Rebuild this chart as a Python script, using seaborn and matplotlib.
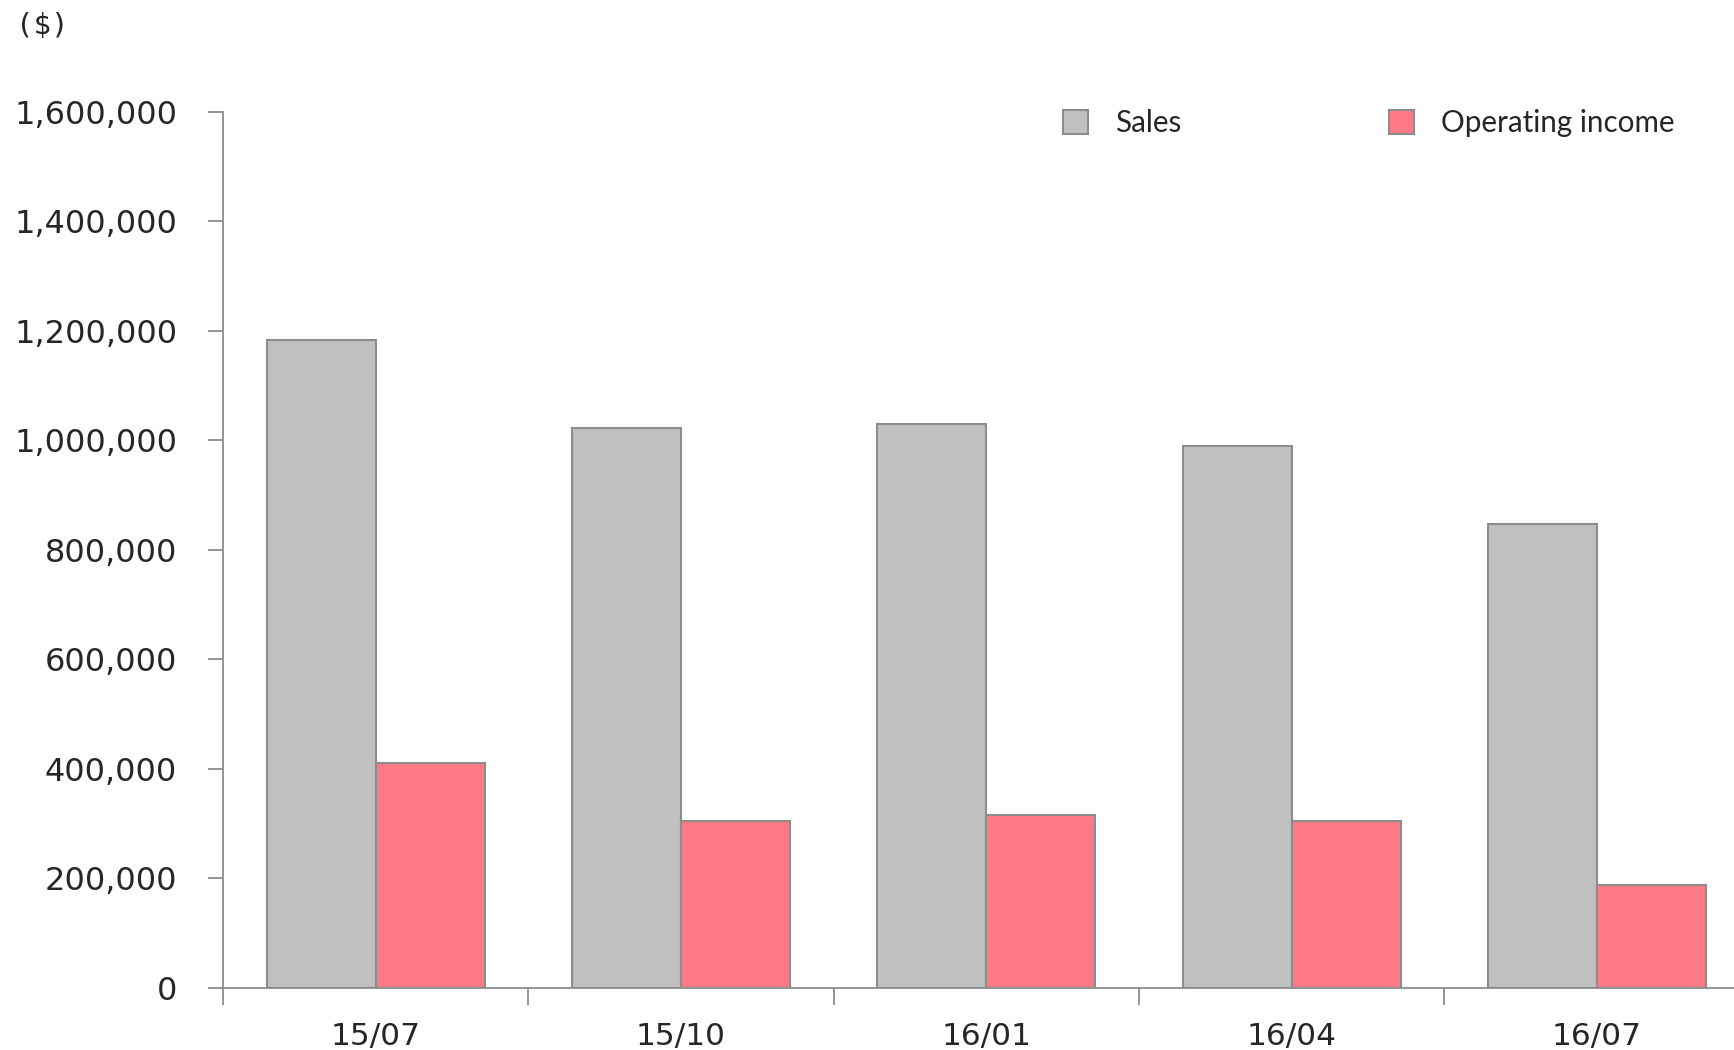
import pandas as pd
import matplotlib.pyplot as plt
import seaborn as sns
from matplotlib.ticker import FuncFormatter, MultipleLocator

# data
periods = ["15/07", "15/10", "16/01", "16/04", "16/07"]
sales = [1183000, 1022000, 1030000, 990000, 846000]
operating_income = [410000, 305000, 315000, 305000, 188000]
series_names = ["Sales", "Operating income"]
colors = ["#C0C0C0", "#FF7A85"]

df = pd.DataFrame({
    "period": periods * 2,
    "value": sales + operating_income,
    "series": [series_names[0]] * len(periods) + [series_names[1]] * len(periods),
})

# plot
sns.set_style("white")
plt.rcParams["font.family"] = ["DejaVu Sans"]

fig = plt.figure(figsize=(17.34, 10.5), dpi=100)
ax = fig.add_axes([0.1286, 0.0594, 0.8804, 0.8342])

sns.barplot(data=df, x="period", y="value", hue="series", palette=colors,
            width=0.714, saturation=1, edgecolor="#8C8C8C", linewidth=1.5, ax=ax)

ax.set_ylim(0, 1600000)
ax.set_xlim(-0.5, len(periods) - 0.5)
ax.yaxis.set_major_locator(MultipleLocator(200000))
ax.yaxis.set_major_formatter(FuncFormatter(lambda v, p: f"{int(v):,}"))

# tick marks between categories, labels at centres
ax.set_xticks([i - 0.5 for i in range(len(periods) + 1)], minor=True)
ax.tick_params(axis="x", which="major", bottom=True, length=0, pad=25, labelsize=22.5)
ax.tick_params(axis="x", which="minor", bottom=True, length=12, width=1.3,
               color="#8C8C8C", direction="out")
ax.tick_params(axis="y", which="major", left=True, length=11, width=1.3, color="#8C8C8C",
               direction="out", pad=22, labelsize=23)

for side in ["top", "right"]:
    ax.spines[side].set_visible(False)
for side in ["left", "bottom"]:
    ax.spines[side].set_color("#8C8C8C")
    ax.spines[side].set_linewidth(1.3)

ax.set_xlabel("")
ax.set_ylabel("")

handles, labels = ax.get_legend_handles_labels()
ax.get_legend().remove()
fig.legend(handles, labels, loc="center left", bbox_to_anchor=(0.613, 0.883),
           ncol=2, frameon=False, borderpad=0, borderaxespad=0,
           handlelength=0.86, handleheight=0.86, handletextpad=0.91,
           columnspacing=7.0, prop={"family": "Lato", "size": 21.3})

fig.text(0.009, 0.975, "($)", fontsize=21, family="DejaVu Sans Mono", va="center", ha="left")

fig.savefig("out.png", dpi=100)
